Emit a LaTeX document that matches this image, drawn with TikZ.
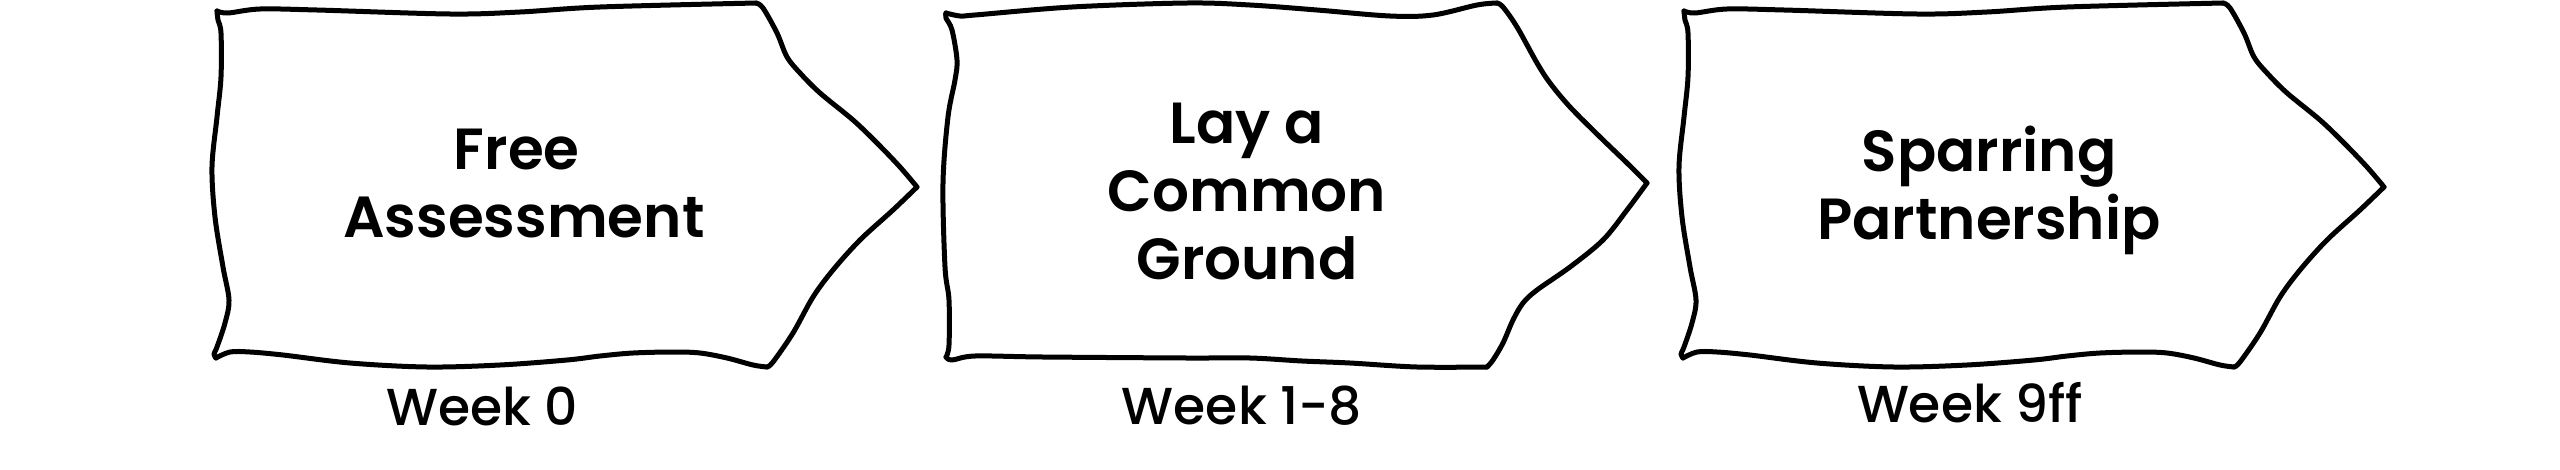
\documentclass[tikz,border=0pt]{standalone}
\usepackage{fontspec}
\setmainfont{Poppins}
\IfFontExistsTF{Poppins SemiBold}{\newfontfamily\titlefont{Poppins SemiBold}}{\newfontfamily\titlefont{Poppins}[FakeBold=1.5]}
\IfFontExistsTF{Poppins Medium}{\newfontfamily\weekfont{Poppins Medium}}{\newfontfamily\weekfont{Poppins}}
\begin{document}
\begin{tikzpicture}[x=1pt,y=-1pt,
  sk/.style={draw=black,line width=5pt,line join=round,line cap=round},
  ttl/.style={font=\titlefont\fontsize{58}{68}\selectfont,align=center,inner sep=0pt,anchor=base},
  wk/.style={font=\weekfont\fontsize{52}{60}\selectfont,inner sep=0pt,anchor=base}]
\fill[white] (0,0) rectangle (2560,469);
\useasboundingbox (0,0) rectangle (2560,469);
% shape 1 and 3 outline
\newcommand\sketchshapeA{%
  \draw[sk] plot[smooth,tension=0.55] coordinates {(217,11) (228,13) (260,9) (317,10) (450,14) (520,12) (600,7) (756,3)};
  \draw[sk] plot[smooth,tension=0.55] coordinates {(756,3) (763,8) (777,33) (787,57) (800,73) (820,93) (853,120) (877,143) (900,167) (917,187)};
  \draw[sk] plot[smooth,tension=0.55] coordinates {(917,187) (893,210) (860,240) (833,270) (813,297) (793,333) (773,362) (767,367)};
  \draw[sk] plot[smooth,tension=0.55] coordinates {(767,367) (753,365) (727,358) (700,353) (673,352) (633,353) (600,356) (567,360) (500,365) (427,367) (350,363) (283,355) (250,352) (230,352) (216,358)};
  \draw[sk] plot[smooth,tension=0.55] coordinates {(216,358) (214,354) (217,347) (225,323) (229,300) (223,267) (215,217) (212,167) (217,117) (221,77) (221,33) (218,20) (217,11)};
}
\sketchshapeA
\begin{scope}[xshift=1467pt]
\sketchshapeA
\end{scope}
% shape 2 outline
\draw[sk] plot[smooth,tension=0.55] coordinates {(946,13) (960,16) (975,15) (1072,7) (1187,3) (1250,5) (1317,10) (1390,16) (1433,15) (1477,5) (1497,3)};
\draw[sk] plot[smooth,tension=0.55] coordinates {(1497,3) (1503,7) (1517,27) (1537,63) (1550,83) (1570,107) (1600,137) (1627,163) (1647,183)};
\draw[sk] plot[smooth,tension=0.55] coordinates {(1647,183) (1627,210) (1603,240) (1570,267) (1537,290) (1523,303) (1513,320) (1503,343) (1493,360) (1487,367)};
\draw[sk] plot[smooth,tension=0.55] coordinates {(1487,367) (1417,367) (1350,363) (1302,361) (1250,358) (1187,358) (1043,357) (975,356) (952,360) (946,357)};
\draw[sk] plot[smooth,tension=0.55] coordinates {(946,357) (949,345) (949,300) (945,267) (943,183) (948,117) (955,80) (957,60) (952,30) (946,18) (946,13)};
% titles (base anchor = last line baseline)
\node[ttl] (t1) at (524,237) {Free\hspace*{0.25em}\\Assessment};
\node[ttl] (t2) at (1247,279) {Lay a\\Common\\Ground};
\node[ttl] (t3) at (1989,239) {Sparring\\Partnership};
% week labels
\node[wk] (w1) at (482,425) {Week 0};
\node[wk] (w2) at (1242,424) {Week 1-8};
\node[wk] (w3) at (1970,422) {Week 9ff};
\end{tikzpicture}
\end{document}
